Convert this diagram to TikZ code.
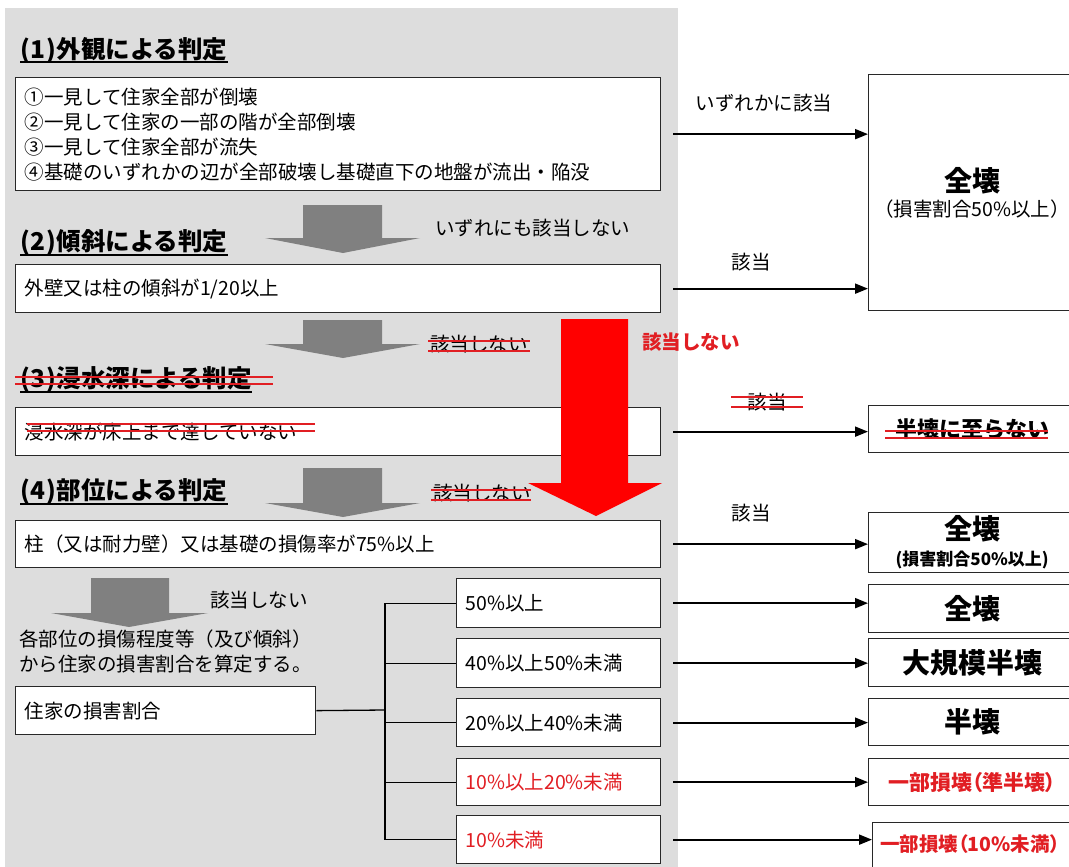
\documentclass[tikz,border=0pt]{standalone}
\usepackage{fontspec}
\setmainfont{Noto Sans CJK JP}
\newfontfamily\jpp[RawFeature=+palt]{Noto Sans CJK JP}
\usetikzlibrary{arrows.meta}
\definecolor{bggrey}{RGB}{221,221,221}
\definecolor{arrgrey}{RGB}{128,128,128}
\definecolor{redtxt}{RGB}{225,30,35}
\definecolor{redarr}{RGB}{255,0,0}
\definecolor{boxline}{RGB}{40,40,40}
\begin{document}
\begin{tikzpicture}[x=1pt,y=-1pt,
  box/.style={draw=boxline,fill=white,line width=1.3pt,anchor=north west,inner xsep=9pt,inner ysep=0pt,align=left,font=\fontsize{19.5}{25}\selectfont},
  rbox/.style={draw=boxline,fill=white,line width=1.3pt,anchor=north west,inner sep=0pt,align=center,minimum width=207pt},
  head/.style={anchor=west,inner sep=0pt,font=\fontsize{24.5}{28}\selectfont\bfseries},
  lbl/.style={inner sep=0pt,font=\fontsize{19.5}{24}\selectfont},
  conn/.style={line width=2pt,-{Triangle[length=13pt,width=10pt]}},
  tree/.style={line width=1.3pt},
  strike/.style={draw=redtxt,line width=2.4pt},
  uline/.style={line width=1.6pt},
  garrow/.style={fill=arrgrey,draw=none},
]
\useasboundingbox (0,0) rectangle (1069,867);
\clip (0,0) rectangle (1069,867);
\fill[white] (0,0) rectangle (1069,867);
% grey panel
\fill[bggrey] (5,8) rectangle (678,880);

% headings
\node[head] (h1) at (20,50) {(\kern1pt1\kern1pt)外観による判定};
\node[head] (h2) at (20,243) {(\kern1pt2\kern1pt)傾斜による判定};
\node[head] (h3) at (20,380) {(\kern1pt3\kern1pt)浸水深による判定};
\node[head] (h4) at (20,492) {(\kern1pt4\kern1pt)部位による判定};
\foreach \h in {h1,h2,h3,h4}{\draw[uline] ([yshift=-12pt]\h.west) -- ([yshift=-12pt]\h.east);}

% left boxes
\node[box,text width=627pt,minimum height=113pt] (b1) at (15,77)
 {①一見して住家全部が倒壊\\②一見して住家の一部の階が全部倒壊\\③一見して住家全部が流失\\④基礎のいずれかの辺が全部破壊し基礎直下の地盤が流出・陥没};
\node[box,text width=627pt,minimum height=48pt] (b2) at (15,264) {外壁又は柱の傾斜が1/20以上};
\node[box,text width=627pt,minimum height=48pt] (b3) at (15,407) {浸水深が床上まで達していない};
\node[box,text width=627pt,minimum height=47pt] (b4) at (15,520) {柱（又は耐力壁）又は基礎の損傷率が75\%以上};

% grey block arrows
\fill[garrow] (303,205) -- (382,205) -- (382,238) -- (420,238) -- (343,253) -- (265,238) -- (303,238) -- cycle;
\fill[garrow] (303,320) -- (382,320) -- (382,344) -- (420,344) -- (343,358) -- (265,344) -- (303,344) -- cycle;
\fill[garrow] (303,468) -- (382,468) -- (382,503) -- (420,503) -- (343,517) -- (265,503) -- (303,503) -- cycle;
\fill[garrow] (91,578) -- (169,578) -- (169,613) -- (208,613) -- (129,627) -- (51,613) -- (91,613) -- cycle;

% labels near arrows
\node[lbl,anchor=west] (l1) at (435,228) {いずれにも該当しない};
\node[lbl,anchor=west] (l2) at (430,344) {該当しない};
\node[lbl,anchor=west] (l3) at (433,493) {該当しない};
\node[lbl,anchor=west] (l4) at (210,600) {該当しない};
\node[lbl,anchor=west,text=redtxt,font=\fontsize{19.5}{24}\selectfont\bfseries] (l5) at (642,342) {該当しない};

% step 5 text and box
\node[lbl,anchor=north west,align=left,font=\fontsize{19.5}{25}\selectfont] (t5) at (19,630)
 {各部位の損傷程度等（及び傾斜）\\から住家の損害割合を算定する。};
\node[box,text width=282pt,minimum height=48pt] (jk) at (15,686) {住家の損害割合};

% range boxes
\node[box,text width=186pt,minimum height=49pt] (r1) at (456,578) {50\%以上};
\node[box,text width=186pt,minimum height=49pt] (r2) at (456,638) {40\%以上50\%未満};
\node[box,text width=186pt,minimum height=48pt] (r3) at (456,698) {20\%以上40\%未満};
\node[box,text width=186pt,minimum height=47pt,text=redtxt] (r4) at (456,758) {10\%以上20\%未満};
\node[box,text width=186pt,minimum height=48pt,text=redtxt] (r5) at (456,815) {10\%未満};

% tree
\coordinate (trunk) at (385,710);
\draw[tree] (jk.east) -- (trunk);
\draw[tree] (trunk |- r1.west) -- (trunk |- r5.west);
\foreach \r in {r1,r2,r3,r4,r5}{\draw[tree] (trunk |- \r.west) -- (\r.west);}

% red big arrow
\fill[redarr] (561,319) -- (628,319) -- (628,483) -- (662,483) -- (596,516) -- (528,483) -- (561,483) -- cycle;

% right boxes
\node[rbox,minimum height=236pt,font=\fontsize{19.5}{25}\selectfont] (z1) at (868,74)
 {{\fontsize{28}{30}\selectfont\bfseries 全壊}\\（損害割合50\%以上）};
\node[rbox,minimum height=47pt,font=\fontsize{22}{26}\selectfont\bfseries] (z0) at (868,405) {半壊に至らない};
\node[rbox,minimum height=60pt,font=\fontsize{17}{26}\selectfont\bfseries] (z2) at (868,512)
 {\\[-3pt]{\fontsize{28}{30}\selectfont 全壊}\\(損害割合50\%以上)};
\node[rbox,minimum height=48pt,font=\fontsize{28}{30}\selectfont\bfseries] (z3) at (868,584) {全壊};
\node[rbox,minimum height=48pt,font=\fontsize{28}{30}\selectfont\bfseries] (z4) at (868,638) {大規模半壊};
\node[rbox,minimum height=47pt,font=\jpp\fontsize{21}{26}\selectfont\bfseries,text=redtxt] (z6) at (868,758) {一部損壊（準半壊）};
\node[rbox,minimum height=47pt,font=\fontsize{28}{30}\selectfont\bfseries] (z5) at (868,698) {半壊};
\node[rbox,minimum height=50pt] (z7) at (872,822) {};
\node[anchor=west,inner sep=0pt,font=\jpp\fontsize{19.5}{24}\selectfont\bfseries,text=redtxt] (z7t) at (880,844) {一部損壊（10\%未満）};

% connectors
\draw[conn] ([xshift=12pt]b1.east) -- (b1.east -| z1.west);
\draw[conn] ([xshift=12pt]b2.east) -- (b2.east -| z1.west);
\draw[conn] ([xshift=12pt]b3.east) -- (b3.east -| z0.west);
\draw[conn] ([xshift=12pt]b4.east) -- (b4.east -| z2.west);
\draw[conn] ([xshift=12pt]r1.east) -- (r1.east -| z3.west);
\draw[conn] ([xshift=12pt]r2.east) -- (r2.east -| z4.west);
\draw[conn] ([xshift=12pt]r3.east) -- (r3.east -| z5.west);
\draw[conn] ([xshift=12pt]r4.east) -- (r4.east -| z6.west);
\draw[conn] ([xshift=12pt]r5.east) -- (r5.east -| z7.west);

% connector labels
\node[lbl] (c1) at (764,103) {いずれかに該当};
\node[lbl] (c2) at (751,262) {該当};
\node[lbl] (c3) at (767,402) {該当};
\node[lbl] (c4) at (751,513) {該当};

% strike-throughs
\draw[strike] (15,377) -- (273,377);
\draw[strike] (15,384) -- (273,384);
\draw[strike] (27,424) -- (315,424);
\draw[strike] (27,431) -- (315,431);
\draw[strike] (428,341) -- (530,341);
\draw[strike] (428,351) -- (530,351);
\draw[strike] (431,490) -- (531,490);
\draw[strike] (431,500) -- (531,500);
\draw[strike] (731,397) -- (803,397);
\draw[strike] (731,407) -- (803,407);
\draw[strike] (885,431) -- (1048,431);
\draw[strike] (885,438) -- (1048,438);
\end{tikzpicture}
\end{document}
